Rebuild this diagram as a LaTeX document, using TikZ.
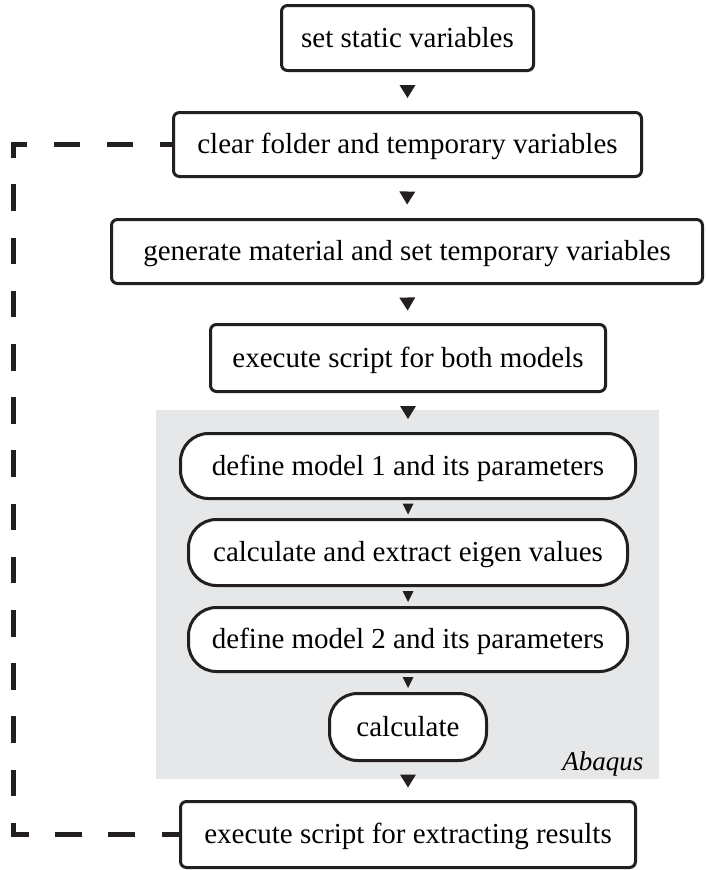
\documentclass[tikz,border=0pt]{standalone}
\usepackage{fontspec}
\setmainfont{Liberation Serif}
\usetikzlibrary{decorations.markings}
\definecolor{ink}{HTML}{231F20}
\definecolor{panel}{HTML}{E6E7E8}

\begin{document}
\begin{tikzpicture}[x=1pt, y=-1pt,
  box/.style={draw=ink, line width=3pt, fill=white, rounded corners=6pt,
    inner sep=0pt, text=black, font=\fontsize{29}{34}\selectfont,
    text height=18pt, text depth=0pt},
  pill/.style={box, rounded corners=28pt},
  flow/.style={postaction={decorate}, decoration={markings,
    mark=at position 0.5 with {\fill[ink] (6.5pt,0pt) -- (-6.5pt,8pt) -- (-6.5pt,-8pt) -- cycle;}}},
  flowsmall/.style={postaction={decorate}, decoration={markings,
    mark=at position 0.5 with {\fill[ink] (5.5pt,0pt) -- (-5.5pt,5.5pt) -- (-5.5pt,-5.5pt) -- cycle;}}},
  loopback/.style={draw=ink, line width=5pt, dash pattern=on 26.6pt off 26.6pt,
    dash phase=14.6pt, line join=miter}
]
\useasboundingbox (0,0) rectangle (705,870);
\fill[white] (0,0) rectangle (705,870);

% shaded region for the solver steps
\node (solver) [fill=panel, draw=none, minimum width=503pt, minimum height=369pt,
  inner sep=0pt, anchor=north west] at (156,410) {};
\node (solverlabel) [anchor=base east, font=\fontsize{27}{32}\selectfont\itshape]
  at (647,770) {Abaqus};

% main steps
\node[box, minimum width=252pt, minimum height=65pt] (b1) at (407.5,38) {set static variables};
\node[box, minimum width=468pt, minimum height=64pt] (b2) at (407.5,144.5) {clear folder and temporary variables};
\node[box, minimum width=591pt, minimum height=64pt] (b3) at (407,251.5) {generate material and set temporary variables};
\node[box, minimum width=395pt, minimum height=67pt] (b4) at (408,358) {execute script for both models};

% solver steps
\node[pill, minimum width=455pt, minimum height=65pt] (b5) at (408,466) {define model 1 and its parameters};
\node[pill, minimum width=439pt, minimum height=66pt] (b6) at (408,552.5) {calculate and extract eigen values};
\node[pill, minimum width=439pt, minimum height=64pt] (b7) at (408,639.5) {define model 2 and its parameters};
\node[pill, minimum width=157pt, minimum height=67pt] (b8) at (408,727) {calculate};

\node[box, minimum width=455pt, minimum height=66pt] (b9) at (408,834.5) {execute script for extracting results};

% flow between steps
\path[flow] (b1.south) -- (b2.north);
\path[flow] (b2.south) -- (b3.north);
\path[flow] (b3.south) -- (b4.north);
\path[flow] (b4.south) -- (b5.north);
\path[flowsmall] (b5.south) -- (b6.north);
\path[flowsmall] (b6.south) -- (b7.north);
\path[flowsmall] (b7.south) -- (b8.north);
\path[flow] (b8.south) -- (b9.north);

% loop back to the start of each run
\coordinate (rail) at (13.7,0);
\draw[loopback] (b2.west) -- (b2.west -| rail) |- (b9.west);
\end{tikzpicture}
\end{document}
